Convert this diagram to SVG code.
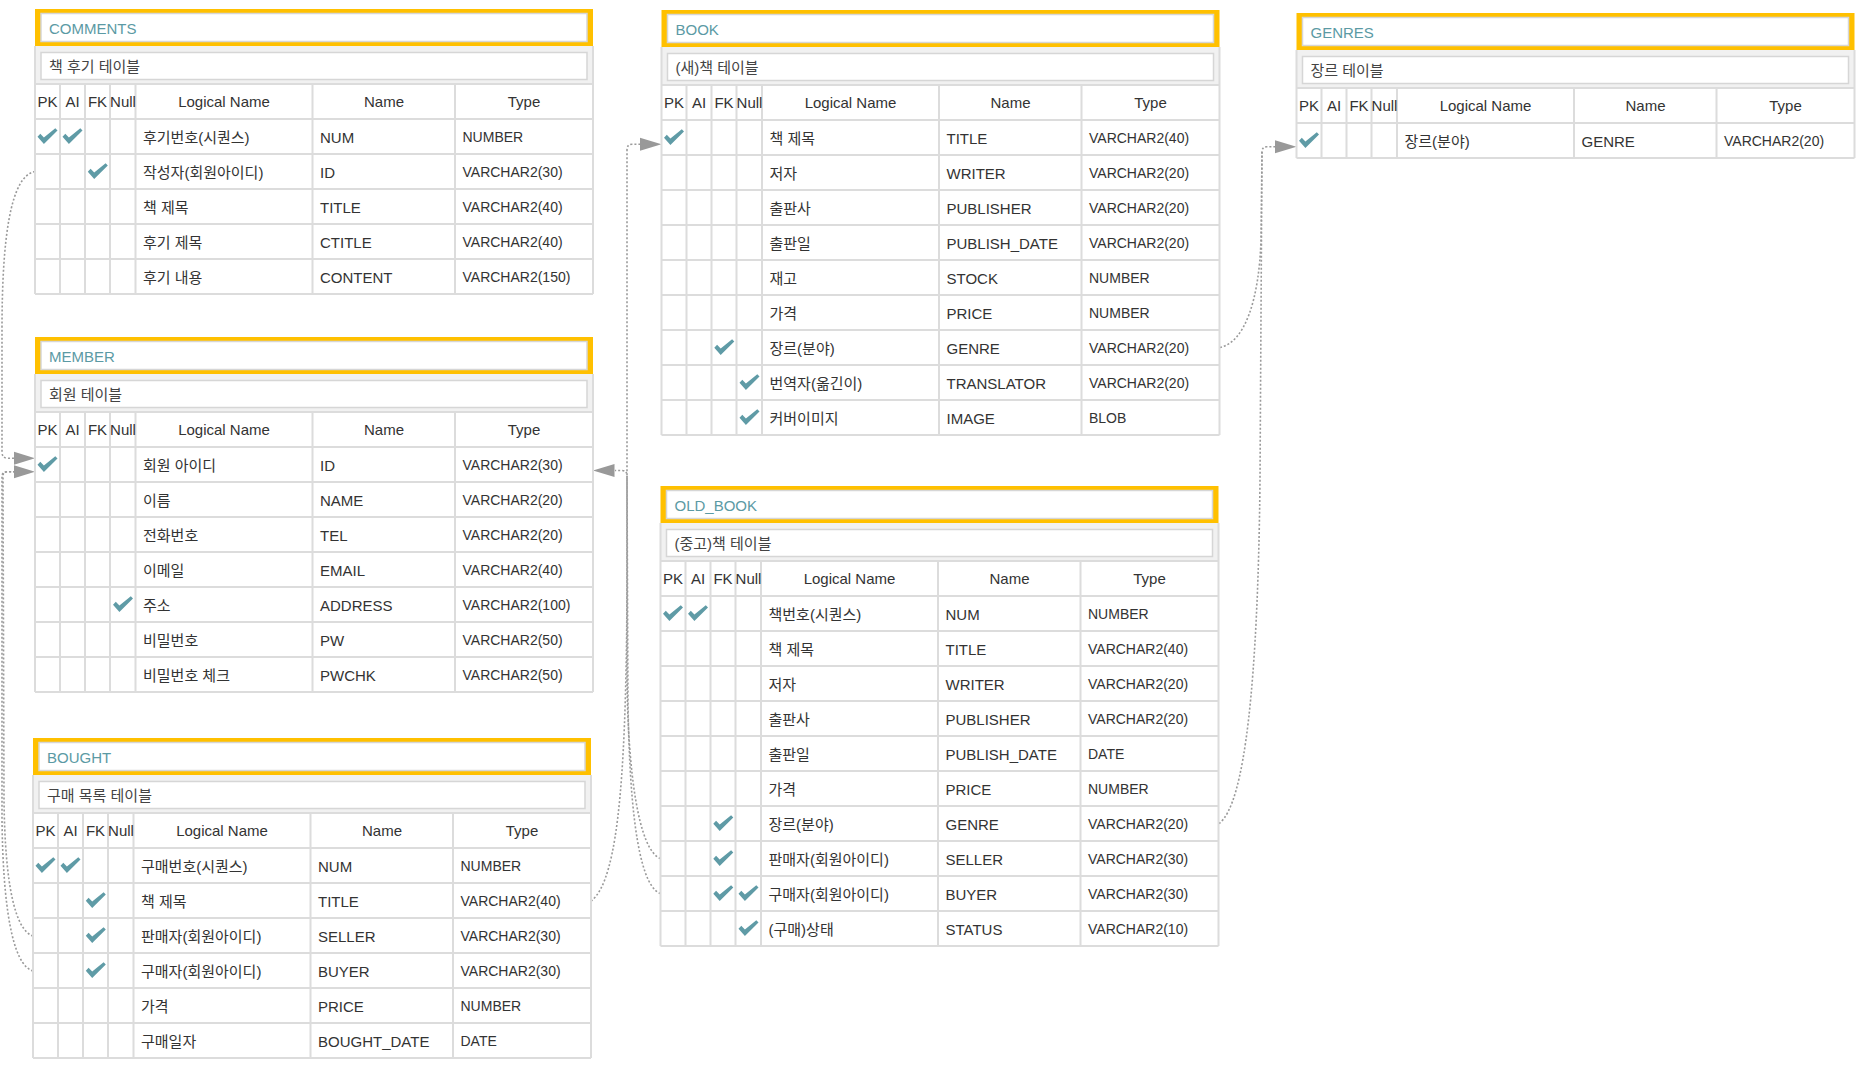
<svg xmlns="http://www.w3.org/2000/svg" width="1864" height="1075" viewBox="0 0 1864 1075">
<defs>
<style>
text{font-family:"Liberation Sans","Noto Sans CJK KR",sans-serif;fill:#333}
.frame{fill:#FFC000}
.tbox{fill:#fff;stroke:#d6d6d6;stroke-width:1.5}
.band{fill:#f1f1f1}
.grid{fill:none;stroke:#dcdcdc;stroke-width:2}
.title{font-size:15px;fill:#5b9aa4}
.desc{font-size:15px;fill:#444}
.hd{font-size:15px;text-anchor:middle}
.c{font-size:15px}
.t{font-size:14px}
.conn{fill:none;stroke:#9a9a9a;stroke-width:1.6;stroke-dasharray:2 2}
.arr{fill:#999}
</style>
<path id="ck" d="M-10,0.5 L-7.2,-2.4 L-3.6,1.2 L7.8,-8 L10,-5.8 L-3.6,7.8 Z" fill="#5f9ba6"/>
</defs>
<rect width="1864" height="1075" fill="#fff"/>

<g id="connectors">
<path class="conn" d="M35,171.5 C10,176 2,240 2,330 L2,452 Q2,458.3 8,458.3 L14,458.3"/>
<path class="conn" d="M33,936 C15,930 5,885 4,800 L3,476 Q3,471.7 8,471.7 L14,471.7"/>
<path class="conn" d="M33,971 C12,965 3,905 2,820 L2,476 Q2,471.7 8,471.7 L14,471.7"/>
<polygon class="arr" points="35,458.3 14,451.8 14,464.8"/>
<polygon class="arr" points="35,471.7 14,465.2 14,478.2"/>
<path class="conn" d="M591,901 C620,880 627,760 627,560 L627,150 Q627,144.3 632,144.3 L640,144.3"/>
<polygon class="arr" points="661.5,144.3 640,137.8 640,150.8"/>
<path class="conn" d="M660.5,858.5 C638,850 628,770 627,680 L627,476 Q627,470.5 622,470.5 L615,470.5"/>
<path class="conn" d="M660.5,893.5 C636,885 629,790 628,700 L627,476"/>
<polygon class="arr" points="593,470.5 614.5,464 614.5,477"/>
<path class="conn" d="M1220,347.5 C1245,342 1259,300 1261,240 L1262,152 Q1262,146.7 1267,146.7 L1275,146.7"/>
<path class="conn" d="M1219,823.5 C1245,805 1258,680 1260,480 L1262,152"/>
<polygon class="arr" points="1296.5,146.7 1275,140.2 1275,153.2"/>
</g>

<g id="table-comments" transform="translate(35,9)">
<rect class="frame" width="558" height="37"/>
<rect class="tbox" x="6" y="4.5" width="546" height="28"/>
<text class="title" x="14" y="25.3">COMMENTS</text>
<rect class="band" y="37" width="558" height="38"/>
<rect class="tbox" x="6" y="43.5" width="546" height="27"/>
<text class="desc" x="14" y="63">책 후기 테이블</text>
<path class="grid" d="M0,37V285M558,37V285M25,75V285M50,75V285M75,75V285M100.5,75V285M277.5,75V285M420,75V285M0,75H558M0,110H558M0,145H558M0,180H558M0,215H558M0,250H558M0,285H558"/>
<text class="hd" x="12.5" y="98">PK</text><text class="hd" x="37.5" y="98">AI</text><text class="hd" x="62.5" y="98">FK</text><text class="hd" x="88" y="98">Null</text><text class="hd" x="189" y="98">Logical Name</text><text class="hd" x="349" y="98">Name</text><text class="hd" x="489" y="98">Type</text>
<use href="#ck" x="12.5" y="127.2"/><use href="#ck" x="37.5" y="127.2"/>
<text class="c" x="108" y="133.5">후기번호(시퀀스)</text><text class="c" x="285" y="133.5">NUM</text><text class="t" x="427.5" y="132.5">NUMBER</text>
<use href="#ck" x="62.8" y="162.2"/>
<text class="c" x="108" y="168.5">작성자(회원아이디)</text><text class="c" x="285" y="168.5">ID</text><text class="t" x="427.5" y="167.5">VARCHAR2(30)</text>
<text class="c" x="108" y="203.5">책 제목</text><text class="c" x="285" y="203.5">TITLE</text><text class="t" x="427.5" y="202.5">VARCHAR2(40)</text>
<text class="c" x="108" y="238.5">후기 제목</text><text class="c" x="285" y="238.5">CTITLE</text><text class="t" x="427.5" y="237.5">VARCHAR2(40)</text>
<text class="c" x="108" y="273.5">후기 내용</text><text class="c" x="285" y="273.5">CONTENT</text><text class="t" x="427.5" y="272.5">VARCHAR2(150)</text>
</g>

<g id="table-member" transform="translate(35,337)">
<rect class="frame" width="558" height="37"/>
<rect class="tbox" x="6" y="4.5" width="546" height="28"/>
<text class="title" x="14" y="25.3">MEMBER</text>
<rect class="band" y="37" width="558" height="38"/>
<rect class="tbox" x="6" y="43.5" width="546" height="27"/>
<text class="desc" x="14" y="63">회원 테이블</text>
<path class="grid" d="M0,37V355M558,37V355M25,75V355M50,75V355M75,75V355M100.5,75V355M277.5,75V355M420,75V355M0,75H558M0,110H558M0,145H558M0,180H558M0,215H558M0,250H558M0,285H558M0,320H558M0,355H558"/>
<text class="hd" x="12.5" y="98">PK</text><text class="hd" x="37.5" y="98">AI</text><text class="hd" x="62.5" y="98">FK</text><text class="hd" x="88" y="98">Null</text><text class="hd" x="189" y="98">Logical Name</text><text class="hd" x="349" y="98">Name</text><text class="hd" x="489" y="98">Type</text>
<use href="#ck" x="12.5" y="127.2"/>
<text class="c" x="108" y="133.5">회원 아이디</text><text class="c" x="285" y="133.5">ID</text><text class="t" x="427.5" y="132.5">VARCHAR2(30)</text>
<text class="c" x="108" y="168.5">이름</text><text class="c" x="285" y="168.5">NAME</text><text class="t" x="427.5" y="167.5">VARCHAR2(20)</text>
<text class="c" x="108" y="203.5">전화번호</text><text class="c" x="285" y="203.5">TEL</text><text class="t" x="427.5" y="202.5">VARCHAR2(20)</text>
<text class="c" x="108" y="238.5">이메일</text><text class="c" x="285" y="238.5">EMAIL</text><text class="t" x="427.5" y="237.5">VARCHAR2(40)</text>
<use href="#ck" x="88" y="267.2"/>
<text class="c" x="108" y="273.5">주소</text><text class="c" x="285" y="273.5">ADDRESS</text><text class="t" x="427.5" y="272.5">VARCHAR2(100)</text>
<text class="c" x="108" y="308.5">비밀번호</text><text class="c" x="285" y="308.5">PW</text><text class="t" x="427.5" y="307.5">VARCHAR2(50)</text>
<text class="c" x="108" y="343.5">비밀번호 체크</text><text class="c" x="285" y="343.5">PWCHK</text><text class="t" x="427.5" y="342.5">VARCHAR2(50)</text>
</g>

<g id="table-bought" transform="translate(33,738)">
<rect class="frame" width="558" height="37"/>
<rect class="tbox" x="6" y="4.5" width="546" height="28"/>
<text class="title" x="14" y="25.3">BOUGHT</text>
<rect class="band" y="37" width="558" height="38"/>
<rect class="tbox" x="6" y="43.5" width="546" height="27"/>
<text class="desc" x="14" y="63">구매 목록 테이블</text>
<path class="grid" d="M0,37V320M558,37V320M25,75V320M50,75V320M75,75V320M100.5,75V320M277.5,75V320M420,75V320M0,75H558M0,110H558M0,145H558M0,180H558M0,215H558M0,250H558M0,285H558M0,320H558"/>
<text class="hd" x="12.5" y="98">PK</text><text class="hd" x="37.5" y="98">AI</text><text class="hd" x="62.5" y="98">FK</text><text class="hd" x="88" y="98">Null</text><text class="hd" x="189" y="98">Logical Name</text><text class="hd" x="349" y="98">Name</text><text class="hd" x="489" y="98">Type</text>
<use href="#ck" x="12.5" y="127.2"/><use href="#ck" x="37.5" y="127.2"/>
<text class="c" x="108" y="133.5">구매번호(시퀀스)</text><text class="c" x="285" y="133.5">NUM</text><text class="t" x="427.5" y="132.5">NUMBER</text>
<use href="#ck" x="62.8" y="162.2"/>
<text class="c" x="108" y="168.5">책 제목</text><text class="c" x="285" y="168.5">TITLE</text><text class="t" x="427.5" y="167.5">VARCHAR2(40)</text>
<use href="#ck" x="62.8" y="197.2"/>
<text class="c" x="108" y="203.5">판매자(회원아이디)</text><text class="c" x="285" y="203.5">SELLER</text><text class="t" x="427.5" y="202.5">VARCHAR2(30)</text>
<use href="#ck" x="62.8" y="232.2"/>
<text class="c" x="108" y="238.5">구매자(회원아이디)</text><text class="c" x="285" y="238.5">BUYER</text><text class="t" x="427.5" y="237.5">VARCHAR2(30)</text>
<text class="c" x="108" y="273.5">가격</text><text class="c" x="285" y="273.5">PRICE</text><text class="t" x="427.5" y="272.5">NUMBER</text>
<text class="c" x="108" y="308.5">구매일자</text><text class="c" x="285" y="308.5">BOUGHT_DATE</text><text class="t" x="427.5" y="307.5">DATE</text>
</g>

<g id="table-book" transform="translate(661.5,10)">
<rect class="frame" width="558" height="37"/>
<rect class="tbox" x="6" y="4.5" width="546" height="28"/>
<text class="title" x="14" y="25.3">BOOK</text>
<rect class="band" y="37" width="558" height="38"/>
<rect class="tbox" x="6" y="43.5" width="546" height="27"/>
<text class="desc" x="14" y="63">(새)책 테이블</text>
<path class="grid" d="M0,37V425M558,37V425M25,75V425M50,75V425M75,75V425M100.5,75V425M277.5,75V425M420,75V425M0,75H558M0,110H558M0,145H558M0,180H558M0,215H558M0,250H558M0,285H558M0,320H558M0,355H558M0,390H558M0,425H558"/>
<text class="hd" x="12.5" y="98">PK</text><text class="hd" x="37.5" y="98">AI</text><text class="hd" x="62.5" y="98">FK</text><text class="hd" x="88" y="98">Null</text><text class="hd" x="189" y="98">Logical Name</text><text class="hd" x="349" y="98">Name</text><text class="hd" x="489" y="98">Type</text>
<use href="#ck" x="12.5" y="127.2"/>
<text class="c" x="108" y="133.5">책 제목</text><text class="c" x="285" y="133.5">TITLE</text><text class="t" x="427.5" y="132.5">VARCHAR2(40)</text>
<text class="c" x="108" y="168.5">저자</text><text class="c" x="285" y="168.5">WRITER</text><text class="t" x="427.5" y="167.5">VARCHAR2(20)</text>
<text class="c" x="108" y="203.5">출판사</text><text class="c" x="285" y="203.5">PUBLISHER</text><text class="t" x="427.5" y="202.5">VARCHAR2(20)</text>
<text class="c" x="108" y="238.5">출판일</text><text class="c" x="285" y="238.5">PUBLISH_DATE</text><text class="t" x="427.5" y="237.5">VARCHAR2(20)</text>
<text class="c" x="108" y="273.5">재고</text><text class="c" x="285" y="273.5">STOCK</text><text class="t" x="427.5" y="272.5">NUMBER</text>
<text class="c" x="108" y="308.5">가격</text><text class="c" x="285" y="308.5">PRICE</text><text class="t" x="427.5" y="307.5">NUMBER</text>
<use href="#ck" x="62.8" y="337.2"/>
<text class="c" x="108" y="343.5">장르(분야)</text><text class="c" x="285" y="343.5">GENRE</text><text class="t" x="427.5" y="342.5">VARCHAR2(20)</text>
<use href="#ck" x="88" y="372.2"/>
<text class="c" x="108" y="378.5">번역자(옮긴이)</text><text class="c" x="285" y="378.5">TRANSLATOR</text><text class="t" x="427.5" y="377.5">VARCHAR2(20)</text>
<use href="#ck" x="88" y="407.2"/>
<text class="c" x="108" y="413.5">커버이미지</text><text class="c" x="285" y="413.5">IMAGE</text><text class="t" x="427.5" y="412.5">BLOB</text>
</g>

<g id="table-old-book" transform="translate(660.5,486)">
<rect class="frame" width="558" height="37"/>
<rect class="tbox" x="6" y="4.5" width="546" height="28"/>
<text class="title" x="14" y="25.3">OLD_BOOK</text>
<rect class="band" y="37" width="558" height="38"/>
<rect class="tbox" x="6" y="43.5" width="546" height="27"/>
<text class="desc" x="14" y="63">(중고)책 테이블</text>
<path class="grid" d="M0,37V460M558,37V460M25,75V460M50,75V460M75,75V460M100.5,75V460M277.5,75V460M420,75V460M0,75H558M0,110H558M0,145H558M0,180H558M0,215H558M0,250H558M0,285H558M0,320H558M0,355H558M0,390H558M0,425H558M0,460H558"/>
<text class="hd" x="12.5" y="98">PK</text><text class="hd" x="37.5" y="98">AI</text><text class="hd" x="62.5" y="98">FK</text><text class="hd" x="88" y="98">Null</text><text class="hd" x="189" y="98">Logical Name</text><text class="hd" x="349" y="98">Name</text><text class="hd" x="489" y="98">Type</text>
<use href="#ck" x="12.5" y="127.2"/><use href="#ck" x="37.5" y="127.2"/>
<text class="c" x="108" y="133.5">책번호(시퀀스)</text><text class="c" x="285" y="133.5">NUM</text><text class="t" x="427.5" y="132.5">NUMBER</text>
<text class="c" x="108" y="168.5">책 제목</text><text class="c" x="285" y="168.5">TITLE</text><text class="t" x="427.5" y="167.5">VARCHAR2(40)</text>
<text class="c" x="108" y="203.5">저자</text><text class="c" x="285" y="203.5">WRITER</text><text class="t" x="427.5" y="202.5">VARCHAR2(20)</text>
<text class="c" x="108" y="238.5">출판사</text><text class="c" x="285" y="238.5">PUBLISHER</text><text class="t" x="427.5" y="237.5">VARCHAR2(20)</text>
<text class="c" x="108" y="273.5">출판일</text><text class="c" x="285" y="273.5">PUBLISH_DATE</text><text class="t" x="427.5" y="272.5">DATE</text>
<text class="c" x="108" y="308.5">가격</text><text class="c" x="285" y="308.5">PRICE</text><text class="t" x="427.5" y="307.5">NUMBER</text>
<use href="#ck" x="62.8" y="337.2"/>
<text class="c" x="108" y="343.5">장르(분야)</text><text class="c" x="285" y="343.5">GENRE</text><text class="t" x="427.5" y="342.5">VARCHAR2(20)</text>
<use href="#ck" x="62.8" y="372.2"/>
<text class="c" x="108" y="378.5">판매자(회원아이디)</text><text class="c" x="285" y="378.5">SELLER</text><text class="t" x="427.5" y="377.5">VARCHAR2(30)</text>
<use href="#ck" x="62.8" y="407.2"/><use href="#ck" x="88" y="407.2"/>
<text class="c" x="108" y="413.5">구매자(회원아이디)</text><text class="c" x="285" y="413.5">BUYER</text><text class="t" x="427.5" y="412.5">VARCHAR2(30)</text>
<use href="#ck" x="88" y="442.2"/>
<text class="c" x="108" y="448.5">(구매)상태</text><text class="c" x="285" y="448.5">STATUS</text><text class="t" x="427.5" y="447.5">VARCHAR2(10)</text>
</g>

<g id="table-genres" transform="translate(1296.5,13)">
<rect class="frame" width="558" height="37"/>
<rect class="tbox" x="6" y="4.5" width="546" height="28"/>
<text class="title" x="14" y="25.3">GENRES</text>
<rect class="band" y="37" width="558" height="38"/>
<rect class="tbox" x="6" y="43.5" width="546" height="27"/>
<text class="desc" x="14" y="63">장르 테이블</text>
<path class="grid" d="M0,37V145M558,37V145M25,75V145M50,75V145M75,75V145M100.5,75V145M277.5,75V145M420,75V145M0,75H558M0,110H558M0,145H558"/>
<text class="hd" x="12.5" y="98">PK</text><text class="hd" x="37.5" y="98">AI</text><text class="hd" x="62.5" y="98">FK</text><text class="hd" x="88" y="98">Null</text><text class="hd" x="189" y="98">Logical Name</text><text class="hd" x="349" y="98">Name</text><text class="hd" x="489" y="98">Type</text>
<use href="#ck" x="12.5" y="127.2"/>
<text class="c" x="108" y="133.5">장르(분야)</text><text class="c" x="285" y="133.5">GENRE</text><text class="t" x="427.5" y="132.5">VARCHAR2(20)</text>
</g>
</svg>
